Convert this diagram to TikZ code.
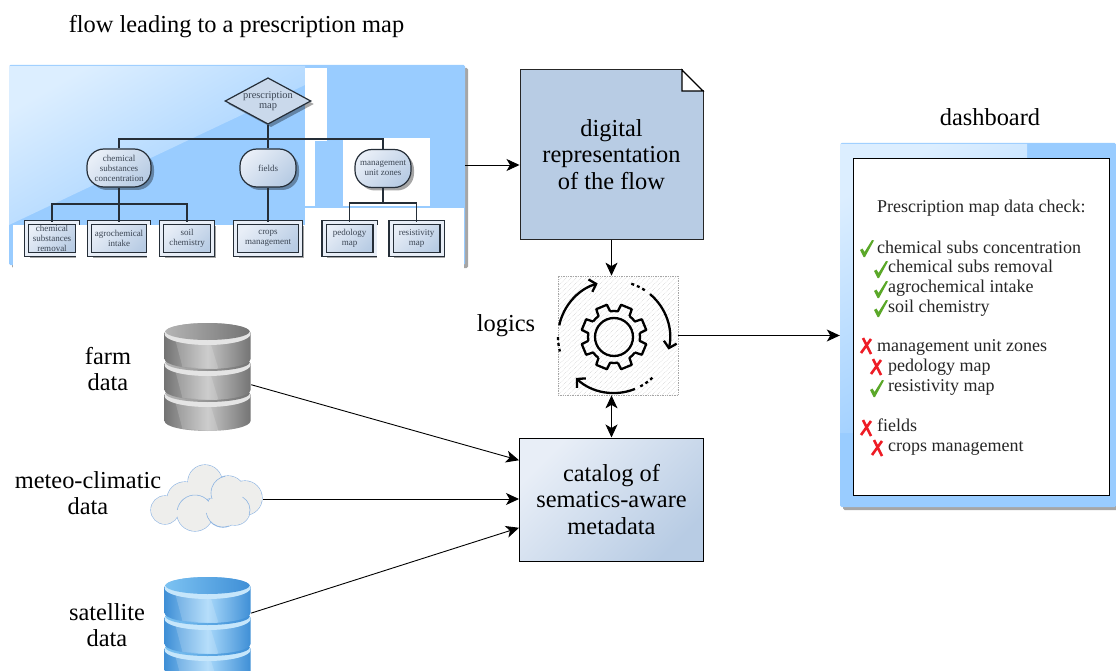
\documentclass[tikz,border=0pt]{standalone}
\usepackage{fontspec}
\setmainfont{Liberation Serif}
\usetikzlibrary{arrows.meta,shadows,shapes.geometric,patterns.meta}
\definecolor{panelblue}{HTML}{99CCFF}
\definecolor{panellight}{HTML}{DCEEFF}
\definecolor{boxblue}{HTML}{B8CCE4}
\definecolor{boxlight}{HTML}{E8EEF7}
\definecolor{treedark}{HTML}{252E38}
\definecolor{treetext}{HTML}{3C4654}
\definecolor{okgreen}{HTML}{5BA829}
\definecolor{nored}{HTML}{EE1C25}
\definecolor{cloudedge}{HTML}{8DB4E2}
\definecolor{clouddisk}{HTML}{EEEEEC}
\definecolor{greyedge}{HTML}{747474}
\definecolor{greymid}{HTML}{C4C4C4}
\definecolor{greyrim}{HTML}{E4E4E4}
\definecolor{greytop}{HTML}{B4B4B4}
\definecolor{blueedge}{HTML}{3F8FD6}
\definecolor{bluemid}{HTML}{A8D8FA}
\definecolor{bluerim}{HTML}{C6E6FB}
\definecolor{bluetop}{HTML}{7CC2F2}
\tikzset{
  link/.style={draw=black,line width=.9pt,-{Stealth[length=13pt,width=12pt,inset=3.5pt]}},
  linkboth/.style={draw=black,line width=.9pt,{Stealth[length=13pt,width=12pt,inset=3.5pt]}-{Stealth[length=13pt,width=12pt,inset=3.5pt]}},
  treeline/.style={draw=treedark,line width=1.3pt},
  softshadow/.style={drop shadow={shadow xshift=3pt,shadow yshift=-3pt,opacity=.35,fill=black}},
  panel/.style={fill=panelblue,rounded corners=1.5pt,inner sep=0,softshadow},
  biglabel/.style={font=\fontsize{24.4}{26.5}\selectfont,align=center,inner sep=0},
  dashtext/.style={font=\fontsize{18}{20}\selectfont,text=black!85,inner sep=0,text height=11.5,text depth=3.5},
  treetextstyle/.style={font=\fontsize{9}{10}\selectfont,text=treetext,align=center,inner sep=0},
  topnode/.style={treetextstyle,font=\fontsize{10.4}{10.5}\selectfont,diamond,draw=treedark,line width=1.2pt,fill=boxblue!75,aspect=1.85,minimum width=82,minimum height=44,softshadow},
  midnode/.style={treetextstyle,draw=treedark,line width=1.2pt,rounded corners=17pt,top color=boxlight,bottom color=boxblue,shading angle=45,minimum height=38,softshadow},
  leafnode/.style={treetextstyle,draw=treedark,line width=1.4pt,double=boxlight,double distance=3pt,top color=boxlight,bottom color=boxblue,shading angle=45,minimum height=32,softshadow},
  iconline/.style={draw=black,line width=2.3pt,line join=round},
  cloudarc/.style={draw=cloudedge,line width=.6pt},
}
\newcommand{\okmark}[2]{\fill[okgreen,shift={(#1,#2)}] (0,10)--(2.5,8.5)--(4.5,12)--(12,0)--(14,.5)--(5,17)--(3.5,17)--cycle;}
\newcommand{\nomark}[2]{\draw[nored,line width=2.6pt,shift={(#1,#2)}] (3,0)--(11,16) (11,1)--(1,15);}
% one stack of three disks: centre x, top y, dark, middle, rim, top face
\newcommand{\dbstack}[6]{
  \foreach \dy in {62,31,0}{
    \shade[left color=#3,right color=#3,middle color=#4,shift={(#1,#2+\dy)}] (-43,10)--(-43,36) arc[start angle=180,end angle=360,x radius=43pt,y radius=10pt]--(43,10) arc[start angle=0,end angle=180,x radius=43pt,y radius=10pt]--cycle;
    \fill[white,opacity=.16,shift={(#1,#2+\dy)}] (-33,14)--(-25,44)--(11,46)--(3,20)--cycle;
    \fill[#5,shift={(#1,#2+\dy)}] (0,11) ellipse[x radius=43pt,y radius=11pt];
    \shade[left color=#6,right color=#3,shift={(#1,#2+\dy)}] (0,8.5) ellipse[x radius=42pt,y radius=8.5pt];
  }
}
\begin{document}
\begin{tikzpicture}[x=1pt,y=-1pt]
  \useasboundingbox (0,0) rectangle (1116,671);
  \clip (0,0) rectangle (1116,671);
  % flow panel
  \node[panel,minimum width=456,minimum height=200] (flow) at (237,165) {};
  \shade[top color=panellight,bottom color=panelblue,shading angle=30] (9,66)--(305,66)--(305,85)--(9,225)--cycle;
  \fill[white] (13,225) rectangle (305,275);
  \fill[white] (305,208) rectangle (464,275);
  \fill[white] (305,68) rectangle (327,141);
  \fill[white] (305,141) rectangle (315,206);
  \fill[white] (343,138) rectangle (430,206);
  % the tree
  \coordinate (bus) at (268,139);
  \coordinate (chembus) at (119,204);
  \coordinate (mgmtbus) at (383,203);
  \node[topnode] (presc) at (268,101) {prescription\\map};
  \node[midnode,minimum width=64] (chem) at (119,168) {chemical\\substances\\concentration};
  \node[midnode,minimum width=56] (fields) at (268,168) {fields};
  \node[midnode,minimum width=56] (mgmt) at (383,168.5) {management\\unit zones};
  \node[leafnode,minimum width=51] (removal) at (52,238.5) {chemical\\substances\\removal};
  \node[leafnode,minimum width=59] (agro) at (119,238.5) {agrochemical\\intake};
  \node[leafnode,minimum width=51] (soil) at (187,238.5) {soil\\chemistry};
  \node[leafnode,minimum width=65] (crops) at (268,238.5) {crops\\management};
  \node[leafnode,minimum width=51] (pedo) at (349.5,238.5) {pedology\\map};
  \node[leafnode,minimum width=51] (resist) at (416.5,238.5) {resistivity\\map};
  \draw[treeline] (presc.south)--(fields.north);
  \draw[treeline] (chem.north) |- (bus) -| (mgmt.north);
  \draw[treeline] (chem.south)--(agro.north);
  \draw[treeline] (removal.north) |- (chembus) -| (soil.north);
  \draw[treeline] (fields.south)--(crops.north);
  \draw[treeline] (mgmt.south)--(mgmtbus);
  \draw[treeline] (pedo.north) |- (mgmtbus) -| (resist.north);
  % cut edges of the screenshot
  \fill[white] (76,225) rectangle (86,266);
  \fill[white] (147,225) rectangle (157,266);
  \fill[white] (305,208) rectangle (321,266);
  \fill[white] (377,225) rectangle (387,266);
  % big boxes
  \node[biglabel,minimum width=183,minimum height=169,fill=boxblue,draw=black!85,line width=1pt] (digital) at (611.5,154.5) {digital\\representation\\of the flow};
  \fill[white] (682.5,69) rectangle (704.5,90.5);
  \draw[black,line width=1.2pt,fill=white] (682,70)--(682,91)--(703,91)--cycle;
  \node[biglabel,minimum width=184,minimum height=123,top color=boxlight,bottom color=boxblue,shading angle=45,draw=black,line width=1pt] (catalog) at (611.5,499.5) {catalog of\\sematics-aware\\metadata};
  % logics icon
  \node[minimum width=120,minimum height=119,pattern={Lines[angle=45,distance=3.5pt,line width=.35pt]},pattern color=black!22,draw=black!35,densely dotted,line width=.7pt] (logics) at (618,335.5) {};
  \coordinate (gear) at (614,337);
  \begin{scope}[shift={(gear)}]
    \foreach \a in {22.5,67.5,...,337.5}
      \draw[iconline] (\a-14:26pt)--(\a-10:33pt)--(\a+10:33pt)--(\a+14:26pt) arc[start angle=\a+14,end angle=\a+31,radius=26pt];
    \draw[iconline] (0,0) circle[radius=19pt];
    \draw[iconline,-{Straight Barb[length=6pt,width=13pt]}] (168:56pt) arc[start angle=168,end angle=107,radius=56pt];
    \draw[iconline,dash pattern=on 3pt off 3pt] (180:56pt) arc[start angle=180,end angle=195,radius=56pt];
    \draw[iconline,-{Straight Barb[length=6pt,width=13pt]}] (50:56pt) arc[start angle=50,end angle=-13,radius=56pt];
    \draw[iconline,dash pattern=on 3pt off 3pt] (72:56pt) arc[start angle=72,end angle=55,radius=56pt];
    \draw[iconline,-{Straight Barb[length=6pt,width=13pt]}] (-68:56pt) arc[start angle=-68,end angle=-133,radius=56pt];
    \draw[iconline,dash pattern=on 3pt off 3pt] (-62:56pt) arc[start angle=-62,end angle=-46,radius=56pt];
  \end{scope}
  % dashboard panel
  \node[panel,minimum width=276,minimum height=364] (dash) at (978,325) {};
  \shade[top color=panellight,bottom color=panelblue,shading angle=30] (840,144)--(1027,144)--(1027,159)--(853,159)--(853,433)--(840,433)--cycle;
  \fill[white,draw=black,line width=1pt] (853,159) rectangle (1109,495);
  \node (check) at (877,209)[right,dashtext]{Prescription map data check:};
  \node (l1) at (877,249)[right,dashtext]{chemical subs concentration};
  \node (l2) at (888,268)[right,dashtext]{chemical subs removal};
  \node (l3) at (888,288)[right,dashtext]{agrochemical intake};
  \node (l4) at (888,308)[right,dashtext]{soil chemistry};
  \node (l5) at (877,347)[right,dashtext]{management unit zones};
  \node (l6) at (888,367)[right,dashtext]{pedology map};
  \node (l7) at (888,387)[right,dashtext]{resistivity map};
  \node (l8) at (877,427)[right,dashtext]{fields};
  \node (l9) at (888,447)[right,dashtext]{crops management};
  \okmark{860}{240}\okmark{874}{261}\okmark{874}{281}\okmark{874}{300}\okmark{870}{380}
  \nomark{860}{338}\nomark{870}{359}\nomark{860}{420}\nomark{871}{440}
  % data sources
  \node[minimum width=87,minimum height=100,inner sep=0] (farm) at (207.5,373) {};
  \dbstack{207.5}{323}{greyedge}{greymid}{greyrim}{greytop}
  \foreach \cx/\cy/\cr in {165/510/14,195/513/18,205/482/17,185/500/18,228/493/17,245/498/17,223/510/17,235/510/15}
    \draw[cloudedge,line width=1.2pt] (\cx,\cy) circle[radius=\cr pt];
  \foreach \cx/\cy/\cr in {165/510/14,195/513/18,205/482/17,185/500/18,228/493/17,245/498/17,223/510/17,235/510/15}
    \fill[clouddisk] (\cx,\cy) circle[radius=\cr pt];
  \draw[cloudarc] (195,513) ++(40:18pt) arc[start angle=40,end angle=170,radius=18pt];
  \draw[cloudarc] (228,493) ++(100:17pt) arc[start angle=100,end angle=200,radius=17pt];
  \draw[cloudarc] (223,510) ++(190:17pt) arc[start angle=190,end angle=290,radius=17pt];
  \draw[cloudarc] (235,510) ++(-20:15pt) arc[start angle=-20,end angle=60,radius=15pt];
  \node[minimum width=111,minimum height=68,inner sep=0] (meteo) at (207,499) {};
  \node[minimum width=87,minimum height=94,inner sep=0] (satellite) at (207.5,624) {};
  \dbstack{207.5}{577}{blueedge}{bluemid}{bluerim}{bluetop}
  % labels
  \node[biglabel] (flowtitle) at (236.5,27) {flow leading to a prescription map};
  \node[biglabel] (dashtitle) at (990,117) {dashboard};
  \node[biglabel] (logicstitle) at (506,326) {logics};
  \node[biglabel] (farmtitle) at (108,369) {farm\\data};
  \node[biglabel] (meteotitle) at (88,493) {meteo-climatic\\data};
  \node[biglabel] (sattitle) at (107,625) {satellite\\data};
  % connectors
  \draw[link] (flow.east)--(flow.east -| digital.west);
  \draw[link] (digital.south)--(digital.south |- logics.north);
  \draw[link] (logics.east)--(logics.east -| dash.west);
  \draw[linkboth] (catalog.north |- logics.south)--(catalog.north);
  \draw[link] (farm.-15.6)--(catalog.157.3);
  \draw[link] (meteo.east)--(meteo.east -| catalog.west);
  \draw[link] (satellite.14.5)--(catalog.197.2);
\end{tikzpicture}
\end{document}
